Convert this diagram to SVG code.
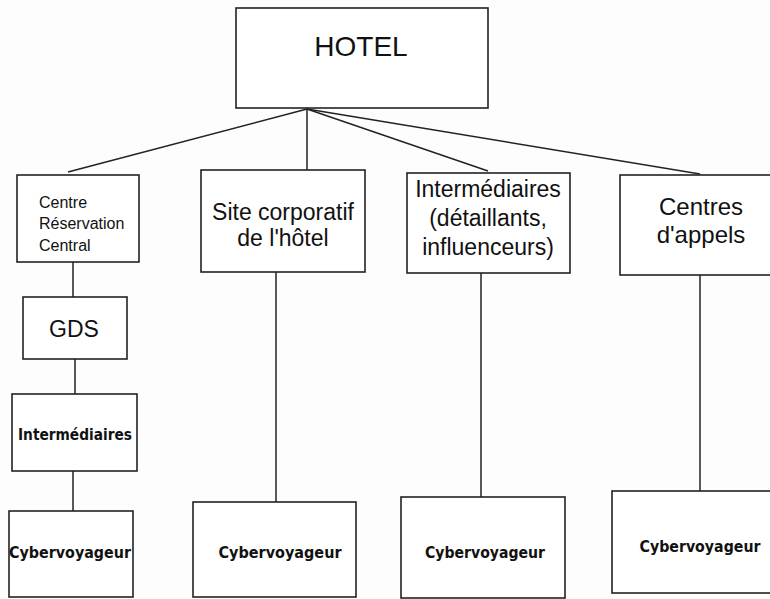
<svg xmlns="http://www.w3.org/2000/svg" width="770" height="599" viewBox="0 0 770 599">
<style>
.box{fill:#fff;stroke:#222;stroke-width:1.6}
.ln{stroke:#222;stroke-width:1.5;fill:none}
.t{font-family:"Liberation Sans",Arial,sans-serif;fill:#111;text-anchor:middle}
.b{font-family:"DejaVu Sans","Liberation Sans",sans-serif;font-weight:bold;fill:#111;text-anchor:middle;font-size:15px}
</style>
<rect width="770" height="599" fill="#fdfdfd"/>
<g id="connectors">
<line class="ln" x1="307" y1="109" x2="68" y2="172"/>
<line class="ln" x1="307" y1="109" x2="307" y2="170"/>
<line class="ln" x1="307" y1="109" x2="488" y2="171"/>
<line class="ln" x1="307" y1="109" x2="700" y2="174"/>
<line class="ln" x1="73" y1="262" x2="73" y2="297"/>
<line class="ln" x1="75" y1="359" x2="75" y2="394"/>
<line class="ln" x1="73" y1="471" x2="73" y2="511"/>
<line class="ln" x1="276" y1="272" x2="276" y2="502"/>
<line class="ln" x1="481" y1="273" x2="481" y2="497"/>
<line class="ln" x1="700" y1="275" x2="700" y2="491"/>
</g>
<g id="hotel">
<rect class="box" x="236" y="8" width="252" height="100"/>
<text class="t" x="361" y="56" font-size="28">HOTEL</text>
</g>
<g id="centre-reservation">
<rect class="box" x="17" y="175" width="122" height="87"/>
<text class="t" font-size="16" style="text-anchor:start"><tspan x="39" y="208">Centre</tspan><tspan x="39" y="229">Réservation</tspan><tspan x="39" y="251">Central</tspan></text>
</g>
<g id="gds">
<rect class="box" x="23" y="297" width="104" height="62"/>
<text class="t" x="74" y="337" font-size="23">GDS</text>
</g>
<g id="intermediaires-1">
<rect class="box" x="12" y="394" width="125" height="77"/>
<text class="b" x="75" y="440" textLength="114" lengthAdjust="spacingAndGlyphs">Intermédiaires</text>
</g>
<g id="cyber-1">
<rect class="box" x="9" y="511" width="124" height="86"/>
<text class="b" x="70" y="558" textLength="122" lengthAdjust="spacingAndGlyphs">Cybervoyageur</text>
</g>
<g id="site">
<rect class="box" x="201" y="170" width="164" height="102"/>
<text class="t" font-size="23"><tspan x="283" y="220">Site corporatif</tspan><tspan x="283" y="246">de l'hôtel</tspan></text>
</g>
<g id="cyber-2">
<rect class="box" x="193" y="502" width="163" height="95"/>
<text class="b" x="280" y="558" textLength="123" lengthAdjust="spacingAndGlyphs">Cybervoyageur</text>
</g>
<g id="intermediaires-2">
<rect class="box" x="407" y="173" width="163" height="100"/>
<text class="t" font-size="23"><tspan x="488" y="197">Intermédiaires</tspan><tspan x="488" y="226">(détaillants,</tspan><tspan x="488" y="255">influenceurs)</tspan></text>
</g>
<g id="cyber-3">
<rect class="box" x="401" y="497" width="164" height="101"/>
<text class="b" x="485" y="558" textLength="120" lengthAdjust="spacingAndGlyphs">Cybervoyageur</text>
</g>
<g id="centres-appels">
<rect class="box" x="620" y="175" width="152" height="100"/>
<text class="t" font-size="24"><tspan x="701" y="215">Centres</tspan><tspan x="701" y="243">d'appels</tspan></text>
</g>
<g id="cyber-4">
<rect class="box" x="612" y="491" width="160" height="102"/>
<text class="b" x="700" y="552" textLength="121" lengthAdjust="spacingAndGlyphs">Cybervoyageur</text>
</g>
</svg>
